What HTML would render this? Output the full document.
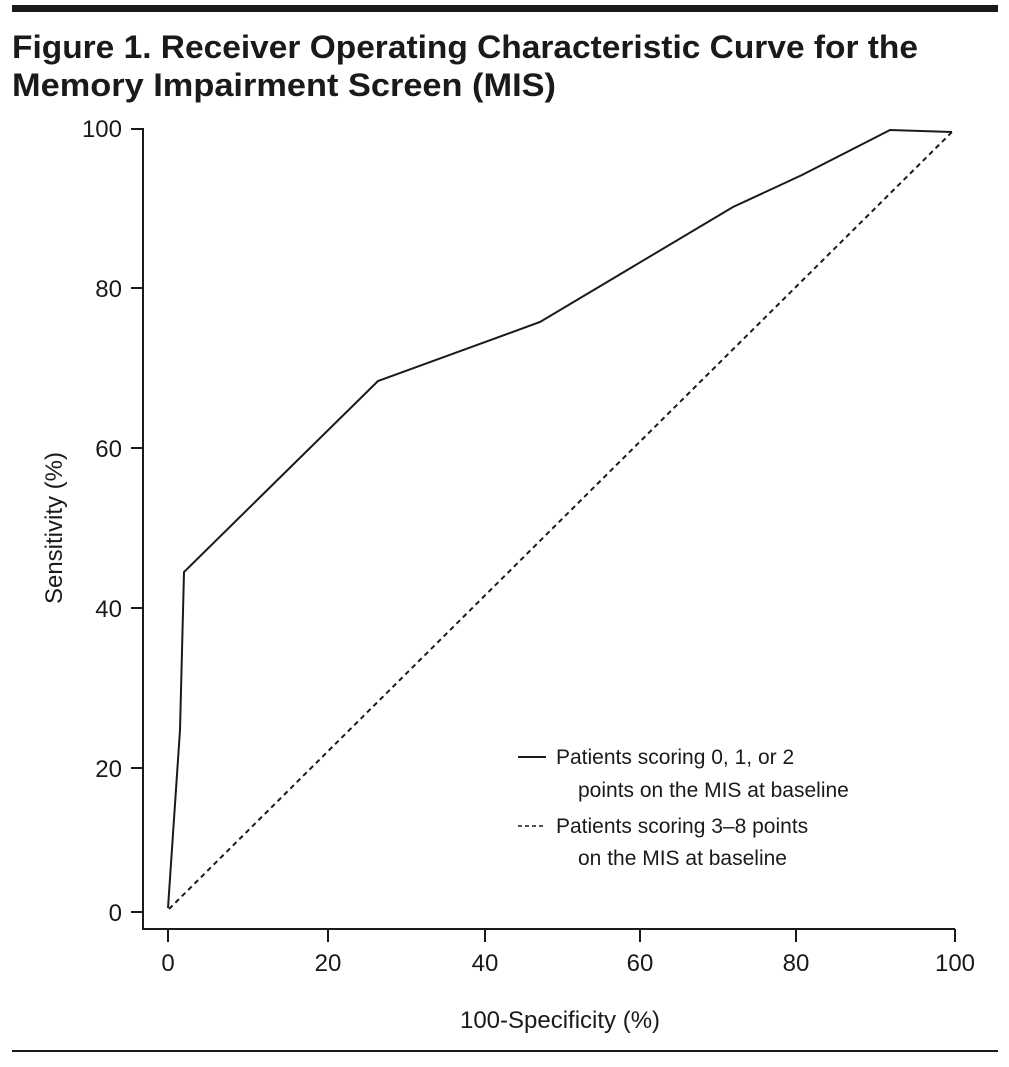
<!DOCTYPE html>
<html><head><meta charset="utf-8"><style>
body{margin:0;background:#fff;}
svg text{font-family:"Liberation Sans",sans-serif;fill:#1a1a1a;}
</style></head><body>
<svg width="1009" height="1062" viewBox="0 0 1009 1062" xmlns="http://www.w3.org/2000/svg">
<rect x="12" y="5" width="986" height="7" fill="#1a1a1a"/>
<text x="12" y="58" font-size="32" font-weight="bold" textLength="906" lengthAdjust="spacingAndGlyphs">Figure 1. Receiver Operating Characteristic Curve for the</text>
<text x="12" y="96" font-size="32" font-weight="bold" textLength="544" lengthAdjust="spacingAndGlyphs">Memory Impairment Screen (MIS)</text>
<g stroke="#1a1a1a" stroke-width="2" fill="none">
<polyline points="131,129 143,129 143,929 955,929"/>
<line x1="131" y1="288" x2="143" y2="288"/><line x1="131" y1="448" x2="143" y2="448"/>
<line x1="131" y1="608" x2="143" y2="608"/><line x1="131" y1="768" x2="143" y2="768"/>
<line x1="131" y1="912" x2="143" y2="912"/>
<line x1="168" y1="929" x2="168" y2="942"/><line x1="328" y1="929" x2="328" y2="942"/>
<line x1="485" y1="929" x2="485" y2="942"/><line x1="640" y1="929" x2="640" y2="942"/>
<line x1="796" y1="929" x2="796" y2="942"/><line x1="955" y1="929" x2="955" y2="942"/>
<polyline points="168,908 180,730 184,572 378,381 540,322 733,207 802,175 890,130 952,132"/>
<line x1="169" y1="909" x2="952" y2="132" stroke-dasharray="5,4"/>
<line x1="518" y1="757" x2="546" y2="757"/>
<line x1="518" y1="826" x2="546" y2="826" stroke-dasharray="4,3" stroke-width="1.5"/>
</g>
<g font-size="24" text-anchor="end">
<text x="122" y="137">100</text><text x="122" y="297">80</text><text x="122" y="457">60</text>
<text x="122" y="617">40</text><text x="122" y="777">20</text><text x="122" y="921">0</text>
</g>
<g font-size="24" text-anchor="middle">
<text x="168" y="971">0</text><text x="328" y="971">20</text><text x="485" y="971">40</text>
<text x="640" y="971">60</text><text x="796" y="971">80</text><text x="955" y="971">100</text>
<text x="560" y="1028">100-Specificity (%)</text>
<text transform="translate(62,528) rotate(-90)">Sensitivity (%)</text>
</g>
<g font-size="21">
<text x="556" y="764">Patients scoring 0, 1, or 2</text>
<text x="578" y="797">points on the MIS at baseline</text>
<text x="556" y="833">Patients scoring 3–8 points</text>
<text x="578" y="865">on the MIS at baseline</text>
</g>
<rect x="12" y="1050" width="986" height="2" fill="#1a1a1a"/>
</svg>
</body></html>
